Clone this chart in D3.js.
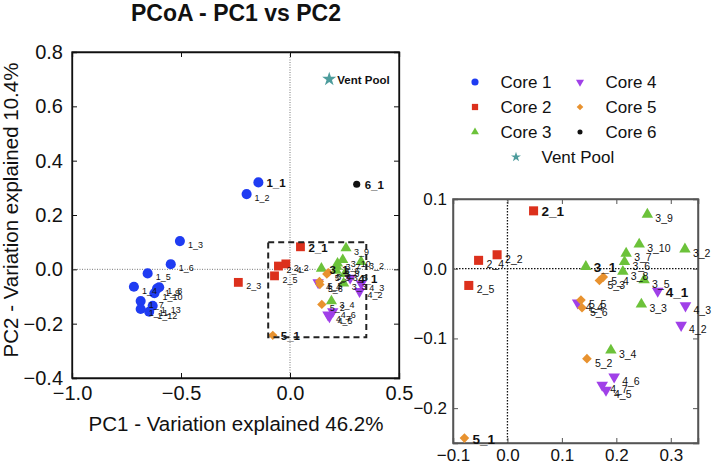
<!DOCTYPE html>
<html>
<head>
<meta charset="UTF-8">
<title>PCoA - PC1 vs PC2</title>
<style>
    body { margin: 0; background: #fff; }
    svg text { font-family: "Liberation Sans", Arial, Helvetica, sans-serif; fill: #111; }
</style>
</head>
<body>
<svg id="chart" width="714" height="466"></svg>

<script src="https://d3js.org/d3.v7.min.js"></script>
<script>
    // groups (legend order)
    const groups = ["Core 1", "Core 2", "Core 3", "Core 4", "Core 5", "Core 6", "Vent Pool"];

    // samples
    const sampleIds = [
        "1_1", "1_2", "1_3", "1_4", "1_5", "1_6", "1_7", "1_8", "1_9", "1_10", "1_11", "1_12", "1_13",
        "2_1", "2_2", "2_3", "2_4", "2_5",
        "3_1", "3_2", "3_3", "3_4", "3_5", "3_6", "3_7", "3_8", "3_9", "3_10",
        "4_1", "4_2", "4_3", "4_4", "4_5", "4_6", "4_7",
        "5_1", "5_2", "5_3", "5_4", "5_5", "5_6",
        "6_1", "Vent Pool"
    ];
    const pc1 = [
        -0.145, -0.199, -0.505, -0.716, -0.653, -0.547, -0.685, -0.600, -0.610, -0.622, -0.685, -0.646, -0.630,
        0.048, -0.019, -0.237, -0.053, -0.071,
        0.144, 0.326, 0.246, 0.190, 0.251, 0.215, 0.218, 0.212, 0.257, 0.242,
        0.276, 0.319, 0.327, 0.129, 0.181, 0.196, 0.174,
        -0.079, 0.146, 0.169, 0.176, 0.135, 0.137,
        0.306, 0.180
    ];
    const pc2 = [
        0.320, 0.277, 0.104, -0.064, -0.015, 0.019, -0.117, -0.066, -0.071, -0.088, -0.146, -0.156, -0.134,
        0.083, 0.020, -0.048, 0.012, -0.024,
        0.003, 0.028, -0.051, -0.117, -0.016, 0.010, 0.022, -0.004, 0.078, 0.035,
        -0.032, -0.081, -0.053, -0.049, -0.174, -0.155, -0.167,
        -0.243, -0.129, -0.017, -0.012, -0.045, -0.056,
        0.313, 0.700
    ];

    // tick labels
    const mainXTicks = [-1.0, -0.5, 0.0, 0.5];
    const mainYTicks = [-0.4, -0.2, 0.0, 0.2, 0.4, 0.6, 0.8];
    const insetXTicks = [-0.1, 0.0, 0.1, 0.2, 0.3];
    const insetYTicks = [-0.2, -0.1, 0.0, 0.1];

    // styling per group
    const colors = ["#1f3cf2", "#dc301c", "#6cc23a", "#a040e8", "#e8922f", "#111111", "#4d9c9c"];
    const shapes = [d3.symbolCircle, d3.symbolSquare, d3.symbolTriangle, d3.symbolTriangle,
        d3.symbolSquare, d3.symbolCircle, d3.symbolStar];
    const rotations = [0, 0, 0, 180, 45, 0, 0];
    const sizes = [80, 78, 54, 56, 44, 40, 62];

    const samples = sampleIds.map((id, i) => ({
        id: id,
        g: id === "Vent Pool" ? 6 : +id.split("_")[0] - 1,
        x: pc1[i],
        y: pc2[i],
        bold: id === "Vent Pool" || /_1$/.test(id)
    }));

    const svg = d3.select("#chart");
    const fmt = d3.format(".1f");

    function symbolPath(g, scale) {
        return d3.symbol().type(shapes[g]).size(sizes[g] * scale)();
    }

    function drawPanel(opt) {
        const x = d3.scaleLinear().domain(opt.xDomain).range([opt.left, opt.right]);
        const y = d3.scaleLinear().domain(opt.yDomain).range([opt.bottom, opt.top]);
        const panel = svg.append("g");

        // zero lines
        panel.append("line")
            .attr("x1", x(0)).attr("x2", x(0))
            .attr("y1", opt.top).attr("y2", opt.bottom)
            .attr("stroke", opt.zeroColor).attr("stroke-width", opt.zeroWidth)
            .attr("stroke-dasharray", opt.zeroDash);
        panel.append("line")
            .attr("x1", opt.left).attr("x2", opt.right)
            .attr("y1", y(0)).attr("y2", y(0))
            .attr("stroke", opt.zeroColor).attr("stroke-width", opt.zeroWidth)
            .attr("stroke-dasharray", opt.zeroDash);

        // axes, ticks pointing inward on all four sides
        const tick = 5;
        panel.append("g")
            .attr("transform", `translate(0,${opt.bottom})`)
            .call(d3.axisBottom(x).tickValues(opt.xTicks).tickSize(-tick).tickPadding(opt.xPad).tickFormat(fmt));
        panel.append("g")
            .attr("transform", `translate(${opt.left},0)`)
            .call(d3.axisLeft(y).tickValues(opt.yTicks).tickSize(-tick).tickPadding(opt.yPad).tickFormat(fmt));
        panel.append("g")
            .attr("transform", `translate(0,${opt.top})`)
            .call(d3.axisTop(x).tickValues(opt.xTicks).tickSize(-tick).tickFormat(""));
        panel.append("g")
            .attr("transform", `translate(${opt.right},0)`)
            .call(d3.axisRight(y).tickValues(opt.yTicks).tickSize(-tick).tickFormat(""));
        panel.selectAll(".domain").attr("stroke", opt.frameColor).attr("stroke-width", opt.frameWidth);
        panel.selectAll(".tick line").attr("stroke", opt.frameColor).attr("stroke-width", 1);
        panel.selectAll(".tick text")
            .attr("font-size", opt.tickFont)
            .attr("fill", "#111")
            .style("font-family", "'Liberation Sans', Arial, sans-serif");

        // plot frame
        panel.append("rect")
            .attr("x", opt.left).attr("y", opt.top)
            .attr("width", opt.right - opt.left).attr("height", opt.bottom - opt.top)
            .attr("fill", "none").attr("stroke", opt.frameColor).attr("stroke-width", opt.frameWidth);

        const shown = samples.filter(d =>
            d.x >= opt.xDomain[0] - 0.005 && d.x <= opt.xDomain[1] &&
            d.y >= opt.yDomain[0] - 0.005 && d.y <= opt.yDomain[1]);

        // points
        panel.selectAll(".pt")
            .data(shown)
            .enter()
            .append("path")
            .attr("class", "pt")
            .attr("d", d => symbolPath(d.g, opt.markerScale))
            .attr("fill", d => colors[d.g])
            .attr("transform", d => `translate(${x(d.x)},${y(d.y)}) rotate(${rotations[d.g]})`);

        // labels
        panel.selectAll(".lbl")
            .data(shown)
            .enter()
            .append("text")
            .attr("class", "lbl")
            .attr("x", d => x(d.x) + opt.labelDx)
            .attr("y", d => y(d.y) + (d.bold ? 1 : opt.labelDy))
            .attr("dominant-baseline", "central")
            .attr("font-size", d => d.bold ? (d.id === "Vent Pool" ? 11.5 : opt.boldFont) : opt.labelFont)
            .attr("font-weight", d => d.bold ? "bold" : "normal")
            .text(d => d.id);

        return { x, y, panel };
    }

    // main panel
    const main = drawPanel({
        xDomain: [-1.0, 0.5], yDomain: [-0.4, 0.8],
        left: 72, right: 399, top: 52, bottom: 378,
        xTicks: mainXTicks, yTicks: mainYTicks,
        xPad: 8, yPad: 9, tickFont: 20,
        frameColor: "#111", frameWidth: 1.3,
        zeroColor: "#777", zeroWidth: 1, zeroDash: "1,1.5",
        markerScale: 1, labelDx: 8, labelDy: 4, labelFont: 9, boldFont: 11.5
    });

    // inset panel (zoom of the dashed box)
    const insetXDomain = [-0.1, 0.35], insetYDomain = [-0.25, 0.1];
    drawPanel({
        xDomain: insetXDomain, yDomain: insetYDomain,
        left: 453, right: 698, top: 199, bottom: 443,
        xTicks: insetXTicks, yTicks: insetYTicks,
        xPad: 6, yPad: 6, tickFont: 17,
        frameColor: "#555", frameWidth: 1.5,
        zeroColor: "#111", zeroWidth: 1.3, zeroDash: "1.5,1.5",
        markerScale: 1.05, labelDx: 8, labelDy: 4, labelFont: 10.5, boldFont: 13.5
    });

    // dashed box on the main panel marking the inset region
    svg.append("rect")
        .attr("x", main.x(insetXDomain[0]))
        .attr("y", main.y(insetYDomain[1]))
        .attr("width", main.x(insetXDomain[1]) - main.x(insetXDomain[0]))
        .attr("height", main.y(insetYDomain[0]) - main.y(insetYDomain[1]))
        .attr("fill", "none")
        .attr("stroke", "#222")
        .attr("stroke-width", 2)
        .attr("stroke-dasharray", "6,4");

    // title and axis titles
    svg.append("text")
        .attr("x", 236).attr("y", 21)
        .attr("text-anchor", "middle")
        .attr("font-size", 23).attr("font-weight", "bold")
        .text("PCoA - PC1 vs PC2");
    svg.append("text")
        .attr("x", 236).attr("y", 431)
        .attr("text-anchor", "middle")
        .attr("font-size", 20.5)
        .text("PC1 - Variation explained 46.2%");
    svg.append("text")
        .attr("transform", "translate(18,210) rotate(-90)")
        .attr("text-anchor", "middle")
        .attr("font-size", 20.5)
        .text("PC2 - Variation explained 10.4%");

    // legend
    const legend = svg.append("g");
    groups.forEach((name, i) => {
        let mx, ty;
        if (i < 6) {
            mx = i < 3 ? 475 : 580;
            ty = 82 + (i % 3) * 25;
        } else {
            mx = 516;
            ty = 157;
        }
        legend.append("path")
            .attr("d", symbolPath(i, 0.5))
            .attr("fill", colors[i])
            .attr("transform", `translate(${mx},${ty}) rotate(${rotations[i]})`);
        legend.append("text")
            .attr("x", mx + 25.5).attr("y", ty)
            .attr("dominant-baseline", "central")
            .attr("font-size", 17)
            .text(name);
    });
</script>
</body>
</html>
